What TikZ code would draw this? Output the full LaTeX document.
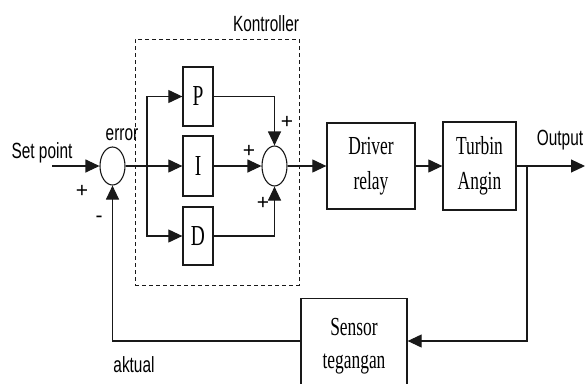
\documentclass[tikz,border=0pt]{standalone}
\usepackage{fontspec}
\setmainfont{Liberation Serif}
\newfontfamily\labfont[FakeStretch=0.7]{Liberation Sans}
\newfontfamily\sgnfont{Liberation Sans}
\newfontfamily\boxfont[FakeStretch=0.67]{Liberation Serif}
\usetikzlibrary{arrows.meta,shapes.geometric}
\begin{document}
\begin{tikzpicture}[x=1pt,y=-1pt,
  line/.style={draw=black!90, line width=1.1pt},
  arr/.style={line, -{Triangle[length=14pt,width=13pt]}},
  blk/.style={draw=black!90, line width=1.3pt, rectangle, inner sep=0pt, align=center,
    font=\boxfont\fontsize{26}{35}\selectfont},
  pid/.style={blk, minimum width=30pt, font=\boxfont\fontsize{29}{30}\selectfont},
  sum/.style={draw=black!90, line width=1.1pt, ellipse, inner sep=0pt, minimum width=25pt},
  lab/.style={font=\labfont\fontsize{22}{24}\selectfont, inner sep=0pt, anchor=base},
  sgn/.style={font=\sgnfont\fontsize{21}{22}\selectfont, inner sep=0pt},
  grp/.style={draw=black!90, line width=0.9pt, dash pattern=on 4pt off 3pt, rectangle, inner sep=0pt},
]
\useasboundingbox (0,0) rectangle (586,383);
\clip (0,0) rectangle (586,383);

% controller group
\node[grp, minimum width=164pt, minimum height=246pt] (ctrl) at (217,162) {};
\node[lab] (kontroller) at (266,31) {Kontroller};

% summing junctions
\node[sum, minimum height=38pt] (s1) at (112.5,166) {};
\node[sum, minimum height=40pt] (s2) at (274.5,166) {};

% PID blocks
\node[pid, minimum height=59pt] (P) at (198,96.5) {P};
\node[pid, minimum height=60pt] (I) at (198,166) {I};
\node[pid, minimum height=58pt] (D) at (198,236) {D};

% plant blocks
\node[blk, minimum width=88pt, minimum height=86pt] (drv) at (371,166) {Driver\\relay};
\node[blk, minimum width=73pt, minimum height=88pt] (tur) at (479.5,166) {Turbin\\Angin};
\node[blk, minimum width=106pt, minimum height=110pt, anchor=north] (sen) at (354,298) {};
\node[font=\boxfont\fontsize{26}{35}\selectfont, inner sep=0pt, anchor=base] (sent1) at (354,335) {Sensor};
\node[font=\boxfont\fontsize{26}{35}\selectfont, inner sep=0pt, anchor=base] (sent2) at (354,368) {tegangan};

% coordinates
\coordinate (sp) at (52,166);
\coordinate (br) at (147,166);
\coordinate (out) at (585,166);
\coordinate (ob) at (527,166);

% labels
\node[lab] (lsp) at (42,158) {Set point};
\node[lab] (lerr) at (122,140) {error};
\node[lab] (lout) at (560,145) {Output};
\node[lab] (lakt) at (134,372) {aktual};
\node[sgn] (p1) at (82,191) {+};
\node[sgn] (m1) at (99,219) {-};
\node[sgn] (p2) at (287,122) {+};
\node[sgn] (p3) at (249,151) {+};
\node[sgn] (p4) at (263,203) {+};

% connectors
\draw[arr] (sp) -- (s1.west);
\draw[arr] (s1.east) -- (I.west);
\draw[arr] (br) |- (P.west);
\draw[arr] (br) |- (D.west);
\draw[arr] (P.east) -| (s2.north);
\draw[arr] (I.east) -- (s2.west);
\draw[arr] (D.east) -| (s2.south);
\draw[arr] (s2.east) -- (drv.west);
\draw[arr] (drv.east) -- (tur.west);
\draw[arr] (tur.east) -- (out);
\draw[arr] (ob) |- (sen.east |- 0,341);
\draw[arr] (sen.west |- 0,341) -| (s1.south);
\end{tikzpicture}
\end{document}
